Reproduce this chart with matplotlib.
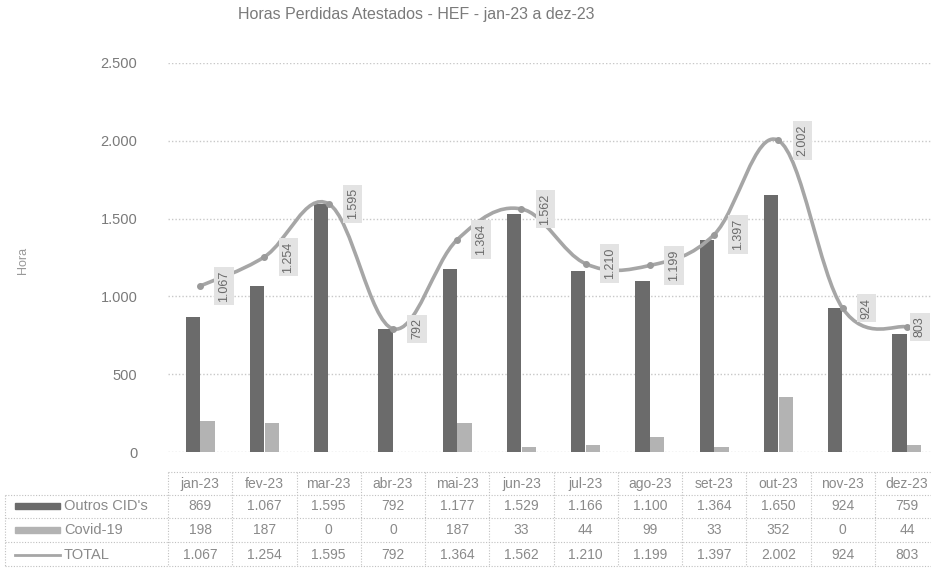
import numpy as np
import matplotlib.pyplot as plt
from matplotlib.lines import Line2D
from matplotlib.path import Path
from matplotlib.patches import PathPatch, Rectangle
from matplotlib.transforms import blended_transform_factory

plt.rcParams['font.family'] = ['Liberation Sans', 'DejaVu Sans']

meses = ["jan-23", "fev-23", "mar-23", "abr-23", "mai-23", "jun-23",
         "jul-23", "ago-23", "set-23", "out-23", "nov-23", "dez-23"]
outros = [869, 1067, 1595, 792, 1177, 1529, 1166, 1100, 1364, 1650, 924, 759]
covid = [198, 187, 0, 0, 187, 33, 44, 99, 33, 352, 0, 44]
total = [1067, 1254, 1595, 792, 1364, 1562, 1210, 1199, 1397, 2002, 924, 803]
yticks = [0, 500, 1000, 1500, 2000, 2500]

c_outros = "#6b6b6b"
c_covid = "#b3b3b3"
c_total = "#a6a6a6"
c_text = "#7a7a7a"
c_grid = "#c8c8c8"

W, H = 931, 569


def fmt(v):
    return f"{v:,}".replace(",", ".")


def fx(px):
    return px / W


def fy(py):
    return 1 - py / H


def smooth_path(xs, ys):
    # curva suave tipo Excel (Catmull-Rom -> Bezier)
    pts = np.column_stack([xs, ys]).astype(float)
    verts = [pts[0]]
    codes = [Path.MOVETO]
    n = len(pts)
    for i in range(n - 1):
        p0 = pts[i - 1] if i > 0 else pts[i]
        p1 = pts[i]
        p2 = pts[i + 1]
        p3 = pts[i + 2] if i + 2 < n else pts[i + 1]
        c1 = p1 + (p2 - p0) / 5.5
        c2 = p2 - (p3 - p1) / 5.5
        verts += [c1, c2, p2]
        codes += [Path.CURVE4] * 3
    return Path(verts, codes)


fig = plt.figure(figsize=(W / 100, H / 100), dpi=100)
ax = fig.add_axes([fx(168), fy(452), fx(939 - 168), (452 - 63) / H])

x = np.arange(len(meses))
w = 0.22
ax.bar(x - 0.115, outros, w, color=c_outros, zorder=3)
ax.bar(x + 0.115, covid, w, color=c_covid, zorder=3)

ax.add_patch(PathPatch(smooth_path(x, total), facecolor="none",
                       edgecolor=c_total, lw=2.6, zorder=4,
                       capstyle="round"))
ax.plot(x, total, ls="none", marker="o", ms=4, color="#9a9a9a", zorder=5)

for xi, v in zip(x, total):
    dx = 24 if xi < len(meses) - 1 else 13
    ax.annotate(fmt(v), (xi, v), xytext=(dx, 0), textcoords="offset pixels",
                rotation=90, ha="center", va="center", fontsize=9,
                color="#6a6a6a", zorder=6, annotation_clip=False,
                bbox=dict(boxstyle="square,pad=0.3", fc="#e3e3e3", ec="none"))

ax.set_xlim(-0.5, len(meses) - 0.5)
ax.set_ylim(0, 2500)
ax.set_yticks(yticks)
ax.set_yticklabels([fmt(t) for t in yticks])
ax.tick_params(axis="y", length=0, pad=22, labelsize=10.5, labelcolor=c_text)
ax.tick_params(axis="x", bottom=False, labelbottom=False)
ax.grid(axis="y", color=c_grid, ls=(0, (1, 1.5)), lw=1, zorder=0)
for s in ax.spines.values():
    s.set_visible(False)

fig.text(fx(416), fy(15), "Horas Perdidas Atestados - HEF - jan-23 a dez-23",
         ha="center", va="center", fontsize=11.5, color="#7a7a7a")
fig.text(fx(23), fy(260), "Hora", rotation=90, ha="center", va="center",
         fontsize=9, color="#999999")

# tabela de dados
tr = blended_transform_factory(ax.transData, fig.transFigure)
row_y = [fy(484), fy(506), fy(530), fy(555)]
lines_y = [fy(472), fy(495), fy(518), fy(542), fy(566)]
tcol = "#8a8a8a"
lstyle = dict(color="#c0c0c0", lw=0.8, ls=(0, (1, 1.5)))

for i, m in enumerate(meses):
    fig.text(i, row_y[0], m, transform=tr, ha="center", va="center",
             fontsize=10, color=tcol)
    fig.text(i, row_y[1], fmt(outros[i]), transform=tr, ha="center",
             va="center", fontsize=10, color=tcol)
    fig.text(i, row_y[2], fmt(covid[i]), transform=tr, ha="center",
             va="center", fontsize=10, color=tcol)
    fig.text(i, row_y[3], fmt(total[i]), transform=tr, ha="center",
             va="center", fontsize=10, color=tcol)

for k in range(len(meses) + 1):
    fig.add_artist(Line2D([k - 0.5, k - 0.5], [lines_y[0], lines_y[-1]],
                          transform=tr, **lstyle))
fig.add_artist(Line2D([-0.5, len(meses) - 0.5], [lines_y[0]] * 2,
                      transform=tr, **lstyle))
for ly in lines_y[1:]:
    fig.add_artist(Line2D([fx(5), 1], [ly, ly], transform=fig.transFigure,
                          **lstyle))
fig.add_artist(Line2D([fx(5), fx(5)], [lines_y[1], lines_y[-1]],
                      transform=fig.transFigure, **lstyle))

labels = ["Outros CID's", "Covid-19", "TOTAL"]
for j, lab in enumerate(labels):
    yy = row_y[j + 1]
    if j < 2:
        fig.add_artist(Rectangle((fx(15), yy - 0.006), fx(45), 0.012,
                                 transform=fig.transFigure,
                                 color=[c_outros, c_covid][j]))
    else:
        fig.add_artist(Line2D([fx(15), fx(60)], [yy, yy],
                              transform=fig.transFigure, color=c_total, lw=2))
    fig.text(fx(64), yy, lab, ha="left", va="center", fontsize=10.5,
             color=tcol)

fig.savefig("out.png", dpi=100, facecolor="white")
